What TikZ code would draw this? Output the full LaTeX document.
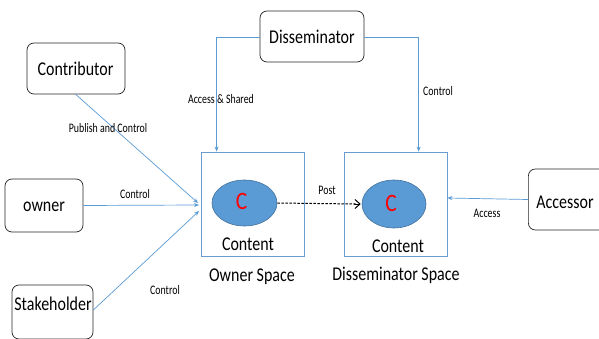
\documentclass[tikz,border=0pt]{standalone}
\usepackage{fontspec}
\setmainfont{Carlito}
\newfontfamily\cndA[FakeStretch=0.82]{Carlito}
\newfontfamily\cndB[FakeStretch=0.76]{Carlito}
\newfontfamily\cndC[FakeStretch=0.86]{Carlito}
\usetikzlibrary{arrows.meta,shapes.geometric,calc}
\definecolor{lblue}{HTML}{5B9BD5}
\definecolor{eblue}{HTML}{41719C}
\definecolor{sblue}{HTML}{6C9CCF}
\begin{document}
\begin{tikzpicture}[x=1pt,y=-1pt,
  actor/.style={draw=black!85,rounded corners=7pt,line width=0.7pt,inner sep=0pt},
  space/.style={draw=sblue,line width=0.8pt,inner sep=0pt},
  cont/.style={ellipse,fill=lblue,draw=eblue,line width=0.6pt,inner sep=0pt},
  conn/.style={draw=lblue,line width=0.7pt,-{Stealth[length=5pt,width=4pt]}},
  lab/.style={font=\cndB\fontsize{13}{14}\selectfont,inner sep=1pt},
  big/.style={font=\cndA\fontsize{19.5}{21}\selectfont,inner sep=0pt},
  cc/.style={font=\cndC\fontsize{25}{26}\selectfont,text=red,inner sep=0pt}
]
\useasboundingbox (0,0) rectangle (599,339);
\fill[white] (0,0) rectangle (599,339);

% actors
\node[actor,minimum width=98pt,minimum height=51pt] (contrib) at (76,68.5) {};
\node[big] (contribtxt) at (75.5,69) {Contributor};
\node[actor,minimum width=104pt,minimum height=51pt] (dissem) at (312,36.5) {};
\node[big] (dissemtxt) at (312,37) {Disseminator};
\node[actor,minimum width=78pt,minimum height=53pt] (owner) at (44,205.5) {};
\node[big] (ownertxt) at (44,207) {owner};
\node[actor,minimum width=81pt,minimum height=54pt] (stake) at (52.5,312) {};
\node[big] (staketxt) at (53,304) {Stakeholder};
\node[actor,minimum width=80pt,minimum height=61pt,anchor=west] (access) at (528,199.5) {};
\node[big] (accesstxt) at (565,202) {Accessor};

% spaces
\node[space,minimum width=103pt,minimum height=104pt] (ospace) at (252.5,204) {};
\node[space,minimum width=103pt,minimum height=104pt] (dspace) at (395.5,204) {};

% contents
\node[cont,minimum width=65pt,minimum height=46pt] (c1) at (244.5,203) {};
\node[cc] (c1t) at (241.5,201) {C};
\node[cont,minimum width=64pt,minimum height=48pt] (c2) at (394,204) {};
\node[cc] (c2t) at (391,203) {C};
\node[big] (t1) at (248,244) {Content};
\node[big] (t2) at (398,246) {Content};
\node[big] (os) at (252,277) {Owner Space};
\node[big] (ds) at (396,275) {Disseminator Space};

% connectors
\coordinate (p1) at (198,203);
\coordinate (p2) at (199,205);
\coordinate (p3) at (199,211);
\draw[conn] ($(contrib.south west)+(49,0)$) -- (p1);
\draw[conn] (owner.east) -- (p2);
\draw[conn] ($(stake.east)+(0,-2)$) -- (p3);
\draw[conn] ($(dissem.west)+(0,1)$) -| ($(ospace.north west)+(16,0)$);
\draw[conn] ($(dissem.east)+(0,1)$) -| ($(dspace.north west)+(75,0)$);
\draw[conn] (access.west) -- ($(dspace.east)+(0,-6)$);
\draw[black,line width=1pt,dash pattern=on 2.5pt off 1.5pt] (c1.east) -- ($(c2.west)+(-6,0)$);
\draw[black,line width=1pt,-{Straight Barb[length=5pt,width=9pt]}] ($(c2.west)+(-8,0)$) -- ($(c2.west)+(-1,0)$);

% labels
\node[lab] (l1) at (108,128) {Publish and Control};
\node[lab] (l2) at (135,194) {Control};
\node[lab] (l3) at (165,290) {Control};
\node[lab] (l4) at (221,99) {Access \& Shared};
\node[lab] (l5) at (438,91) {Control};
\node[lab] (l6) at (487,213) {Access};
\node[lab] (l7) at (327,190) {Post};
\end{tikzpicture}
\end{document}
